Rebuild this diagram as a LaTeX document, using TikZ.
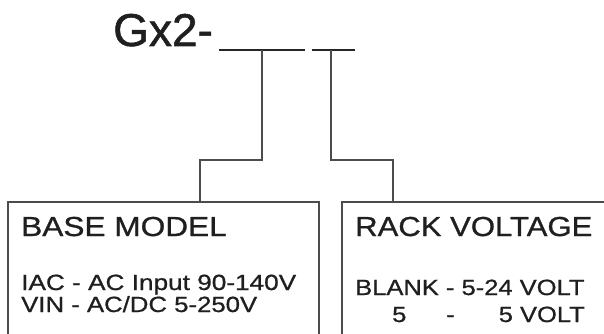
\documentclass[tikz,border=0pt]{standalone}
\usepackage{fontspec}
\setmainfont{Liberation Sans}
\newfontfamily\heavyfont[FakeBold=1.2]{Liberation Sans}
\newfontfamily\midfont[FakeBold=0.8]{Liberation Sans}
\begin{document}
\begin{tikzpicture}[x=1pt,y=-1pt,
  lnk/.style={draw=black!70, line width=1.3pt},
  uline/.style={draw=black!85, line width=2pt},
  boxst/.style={draw=black!70, line width=1.3pt},
  txt/.style={inner sep=0pt, anchor=base west, text=black!88},
  txtr/.style={inner sep=0pt, anchor=base east, text=black!88}]
\useasboundingbox (0,0) rectangle (604,334);
\clip (0,0) rectangle (604,334);
% title
\node[txt, font=\heavyfont\fontsize{46}{50}\selectfont] (title) at (113,46) {Gx2-};
% underlines
\coordinate (u1a) at (219,50); \coordinate (u1b) at (305,50);
\coordinate (u2a) at (312,50); \coordinate (u2b) at (355,50);
\draw[uline] (u1a) -- (u1b);
\draw[uline] (u2a) -- (u2b);
% boxes
\draw[boxst] (8,360) |- (319,202) -- (319,360);
\draw[boxst] (342,360) |- (640,202);
\coordinate (b1) at (200,202);
\coordinate (b2) at (393,202);
\coordinate (t1) at (262,50);
\coordinate (t2) at (331,50);
% connectors
\draw[lnk] (t1) -- ++(0,110) -| (b1);
\draw[lnk] (t2) -- ++(0,110) -| (b2);
% box texts
\node[txt, font=\midfont\fontsize{27.5}{30}\selectfont] (bm) at (21,236) {\scalebox{1.15}[1]{BASE MODEL}};
\node[txt, font=\midfont\fontsize{22}{24}\selectfont] (iac) at (21,290) {\scalebox{1.19}[1]{IAC - AC Input 90-140V}};
\node[txt, font=\midfont\fontsize{22}{24}\selectfont] (vin) at (21,312) {\scalebox{1.17}[1]{VIN - AC/DC 5-250V}};
\node[txt, font=\midfont\fontsize{27.5}{30}\selectfont] (rv) at (355,236) {\scalebox{1.13}[1]{RACK VOLTAGE}};
\node[txt, font=\midfont\fontsize{22}{24}\selectfont] (bl) at (355,295) {\scalebox{1.16}[1]{BLANK - 5-24 VOLT}};
\node[txt, font=\midfont\fontsize{22}{24}\selectfont] (f1) at (392,322) {\scalebox{1.16}[1]{5}};
\node[txt, font=\midfont\fontsize{22}{24}\selectfont] (f2) at (446,322) {\scalebox{1.16}[1]{-}};
\node[txtr, font=\midfont\fontsize{22}{24}\selectfont] (f3) at (585,322) {\scalebox{1.16}[1]{5 VOLT}};
\end{tikzpicture}
\end{document}
